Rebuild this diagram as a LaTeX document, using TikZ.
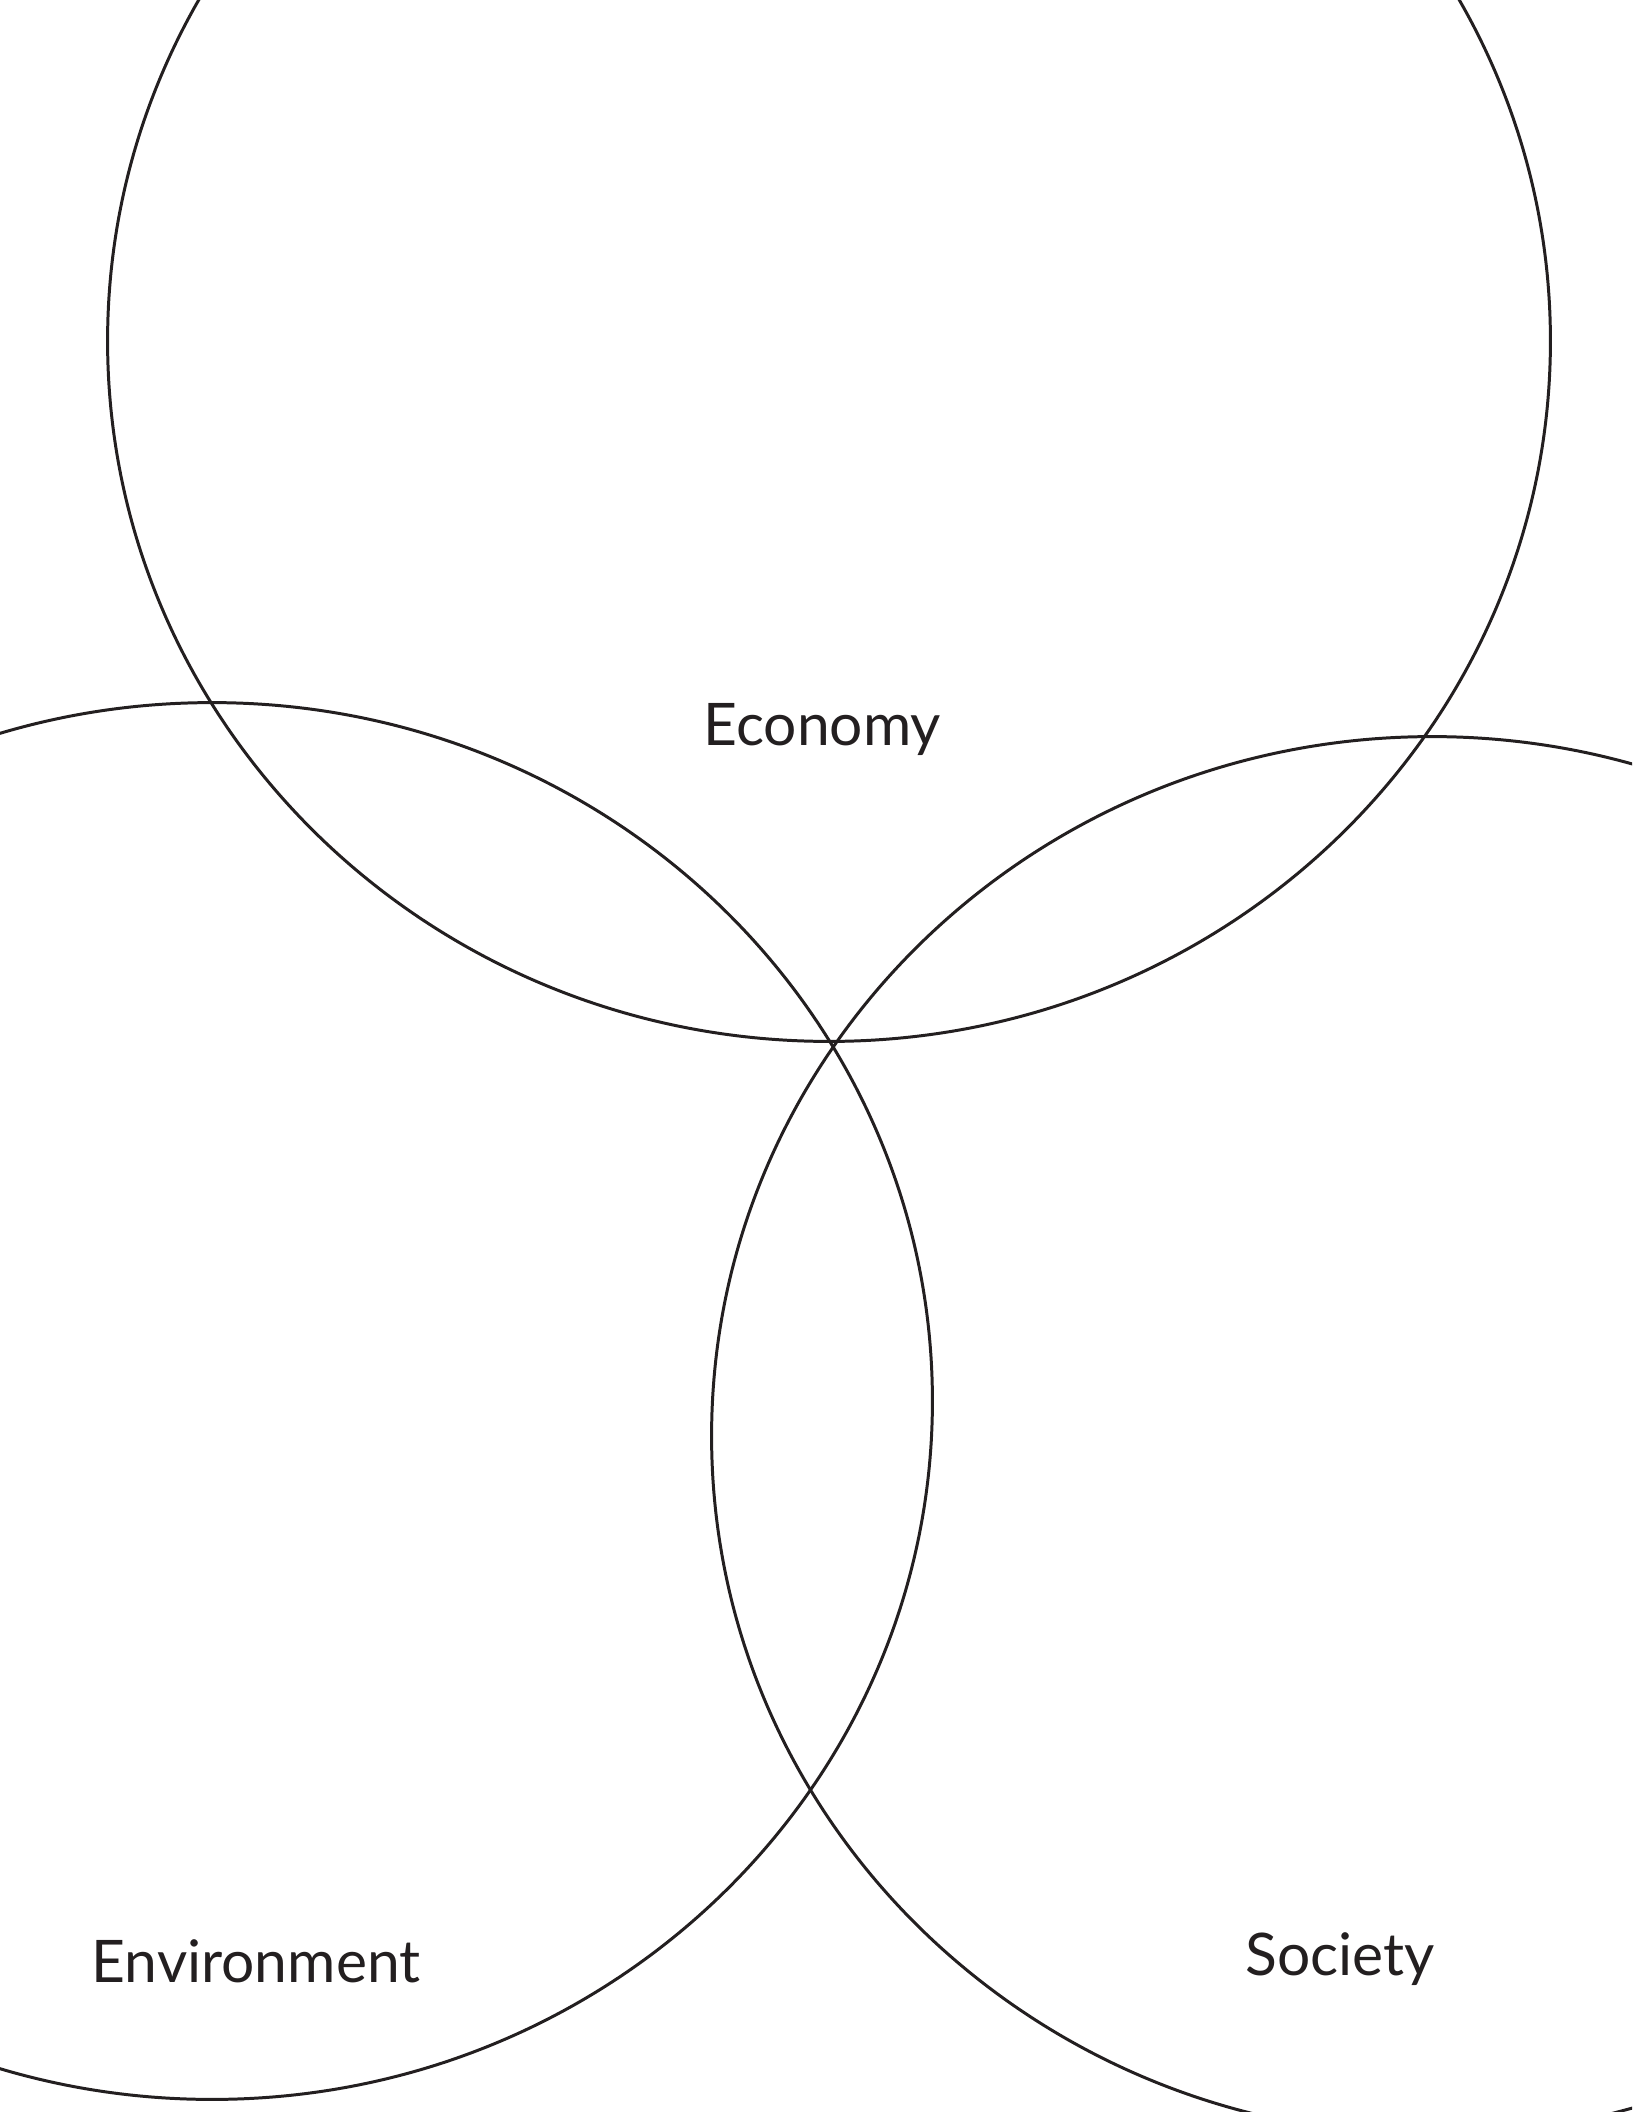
\documentclass[tikz,border=0pt]{standalone}
\usepackage{fontspec}
\setmainfont{Lato}
\definecolor{ink}{HTML}{231F20}
\begin{document}
\begin{tikzpicture}[x=0.01cm,y=-0.01cm,
  ring/.style={draw=ink,line width=0.85pt},
  label/.style={text=ink,font=\fontsize{16.7pt}{18pt}\selectfont,inner sep=0pt,anchor=base west}]
\useasboundingbox (0,0) rectangle (1632,2112);
\begin{scope}
\clip (0,0) rectangle (1632,2112);
\draw[ring] (829,341) ellipse [x radius=7.21cm,y radius=7.00cm];
\draw[ring] (212,1401) ellipse [x radius=7.20cm,y radius=6.98cm];
\draw[ring] (1432,1436) ellipse [x radius=7.20cm,y radius=6.99cm];
\end{scope}
\node[label] (eco) at (703,745) {Economy};
\node[label] (env) at (91,1982) {Environment};
\node[label] (soc) at (1245,1975) {Society};
\end{tikzpicture}
\end{document}
